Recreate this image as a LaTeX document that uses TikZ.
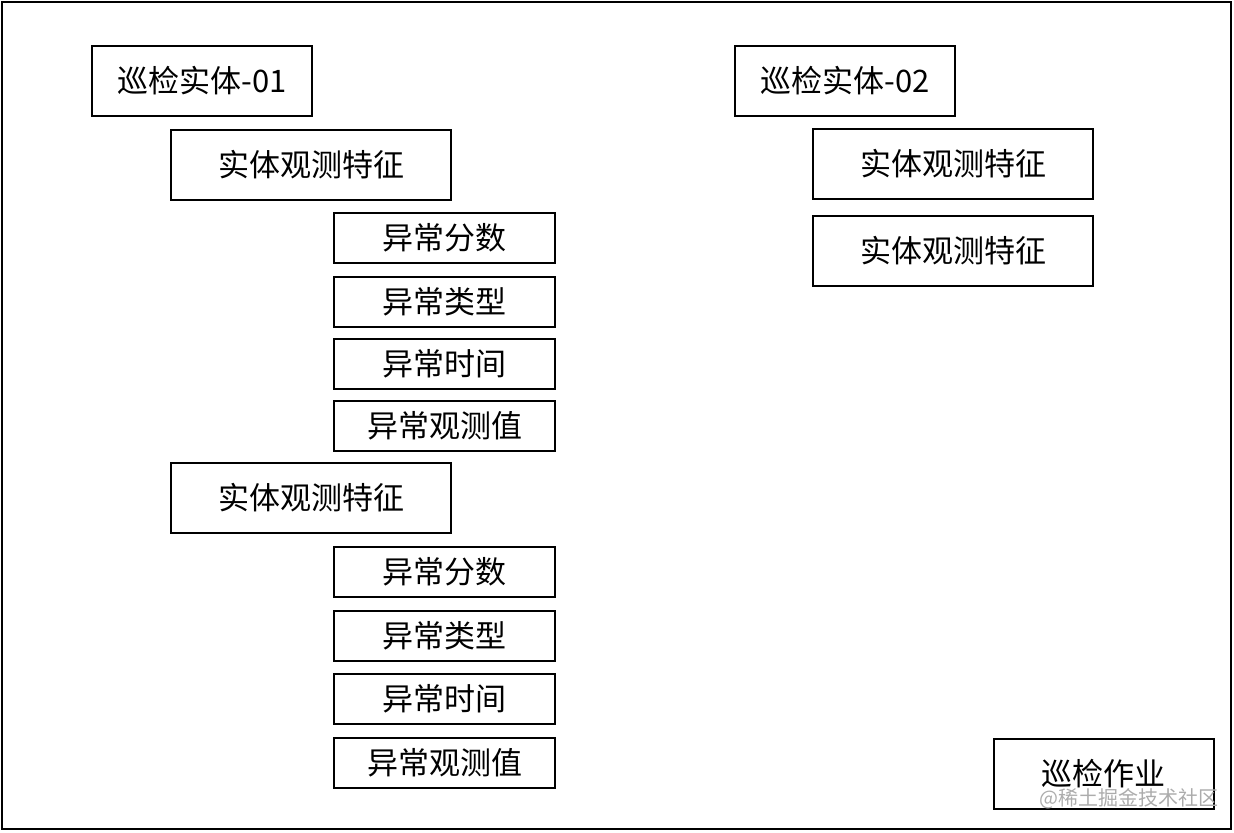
\documentclass[tikz,border=0pt]{standalone}
\usepackage{fontspec}
\setmainfont{Noto Sans CJK SC}
\usepackage{tikz}
\usetikzlibrary{positioning}

\begin{document}
\begin{tikzpicture}[x=0.5pt,y=-0.5pt,
  entity/.style={draw,line width=1pt,minimum width=110pt,minimum height=35pt,inner sep=0pt,font=\fontsize{15.5}{18}\selectfont},
  feature/.style={entity,minimum width=140pt},
  anomaly/.style={entity,minimum width=110.5pt,minimum height=25pt}]
  \useasboundingbox (0,0) rectangle (1234,832);
  % Outer frame
  \draw[line width=1pt] (2,2) rectangle (1231,829);
  % Entity 01
  \node[entity] (ent1) at (202,81) {巡检实体-01};
  \node[feature] (feat1a) at (311,165) {实体观测特征};
  \node[anomaly] (score1a) at (444.5,238) {异常分数};
  \node[anomaly] (type1a) at (444.5,302) {异常类型};
  \node[anomaly] (time1a) at (444.5,364) {异常时间};
  \node[anomaly] (value1a) at (444.5,426) {异常观测值};
  \node[feature] (feat1b) at (311,498) {实体观测特征};
  \node[anomaly] (score1b) at (444.5,572) {异常分数};
  \node[anomaly] (type1b) at (444.5,636) {异常类型};
  \node[anomaly] (time1b) at (444.5,699) {异常时间};
  \node[anomaly] (value1b) at (444.5,763) {异常观测值};
  % Entity 02
  \node[entity] (ent2) at (845,81) {巡检实体-02};
  \node[feature] (feat2a) at (953,164) {实体观测特征};
  \node[feature] (feat2b) at (953,251) {实体观测特征};
  % Job
  \node[entity] (job) at (1103.5,774) {巡检作业};
  \node[text=gray!65,font=\fontsize{10}{12}\selectfont,inner sep=0pt] (mark) at (1129,799) {@稀土掘金技术社区};
\end{tikzpicture}
\end{document}
